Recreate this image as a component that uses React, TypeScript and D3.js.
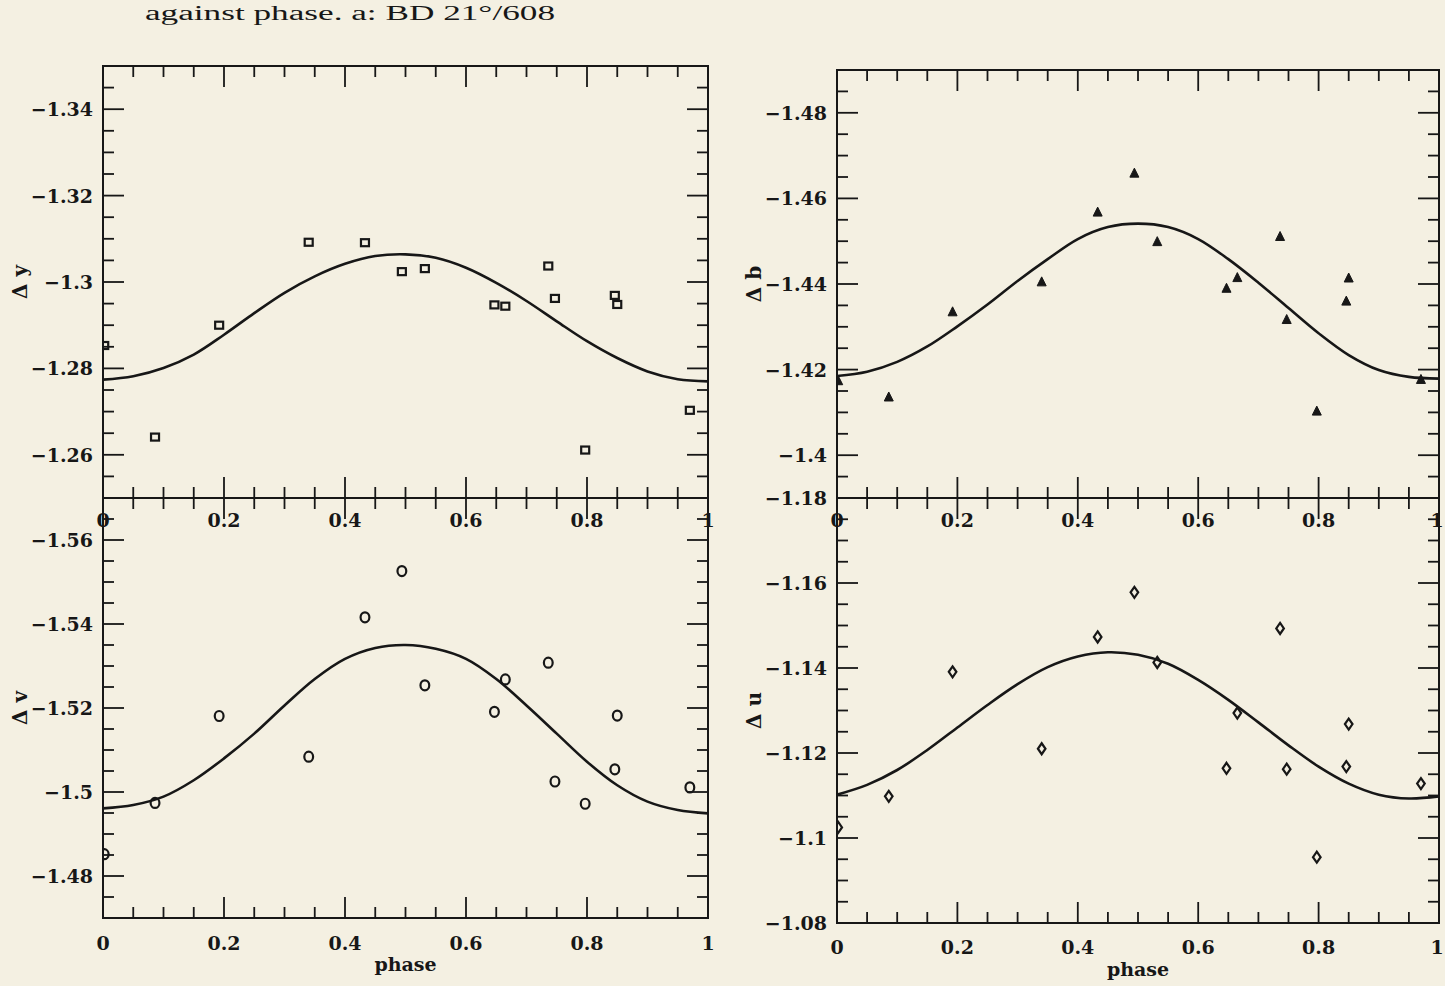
import React from "react";
import * as d3 from "d3";

// ---------- data ----------
const obsPhase = [0.002, 0.086, 0.192, 0.340, 0.433, 0.494, 0.532, 0.647, 0.665, 0.736, 0.747, 0.797, 0.846, 0.850, 0.970];
const dyObs = [-1.2853, -1.2641, -1.2900, -1.3092, -1.3091, -1.3024, -1.3031, -1.2947, -1.2944, -1.3037, -1.2962, -1.2611, -1.2969, -1.2948, -1.2703];
const dbObs = [-1.4174, -1.4136, -1.4335, -1.4405, -1.4568, -1.4659, -1.4499, -1.4390, -1.4415, -1.4511, -1.4317, -1.4103, -1.4360, -1.4414, -1.4177];
const dvObs = [-1.4852, -1.4974, -1.5181, -1.5084, -1.5416, -1.5526, -1.5254, -1.5191, -1.5268, -1.5308, -1.5025, -1.4972, -1.5054, -1.5182, -1.5011];
const duObs = [-1.1025, -1.1098, -1.1391, -1.1210, -1.1473, -1.1578, -1.1413, -1.1164, -1.1294, -1.1493, -1.1162, -1.0955, -1.1168, -1.1268, -1.1128];

const fitPhase = [0, 0.05, 0.1, 0.15, 0.2, 0.25, 0.3, 0.35, 0.4, 0.45, 0.5, 0.55, 0.6, 0.65, 0.7, 0.75, 0.8, 0.85, 0.9, 0.95, 1];
const dyFit = [-1.2774, -1.2782, -1.2801, -1.2832, -1.2878, -1.2928, -1.2975, -1.3013, -1.3042, -1.3060, -1.3064, -1.3056, -1.3033, -1.2998, -1.2956, -1.2909, -1.2863, -1.2824, -1.2793, -1.2775, -1.2770];
const dbFit = [-1.4185, -1.4195, -1.4218, -1.4254, -1.4301, -1.4352, -1.4407, -1.4458, -1.4505, -1.4533, -1.4541, -1.4533, -1.4505, -1.4458, -1.4403, -1.4344, -1.4285, -1.4234, -1.4199, -1.4183, -1.4179];
const dvFit = [-1.4961, -1.4969, -1.4989, -1.5028, -1.5080, -1.5139, -1.5206, -1.5269, -1.5317, -1.5343, -1.5350, -1.5341, -1.5317, -1.5269, -1.5206, -1.5139, -1.5072, -1.5016, -1.4977, -1.4957, -1.4949];
const duFit = [-1.1102, -1.1125, -1.1160, -1.1207, -1.1260, -1.1313, -1.1362, -1.1402, -1.1427, -1.1437, -1.1431, -1.1410, -1.1372, -1.1325, -1.1272, -1.1218, -1.1168, -1.1128, -1.1102, -1.1093, -1.1098];

const xTickLabels = [0, 0.2, 0.4, 0.6, 0.8, 1];
const dyTickLabels = [-1.34, -1.32, -1.30, -1.28, -1.26];
const dbTickLabels = [-1.48, -1.46, -1.44, -1.42, -1.40];
const dvTickLabels = [-1.56, -1.54, -1.52, -1.50, -1.48];
const duTickLabels = [-1.18, -1.16, -1.14, -1.12, -1.10, -1.08];

const dyDomain = [-1.35, -1.25];
const dbDomain = [-1.49, -1.39];
const dvDomain = [-1.57, -1.47];
const duDomain = [-1.18, -1.08];

// ---------- styling ----------
const INK = "#171717";
const PAPER = "#f4f0e2";
const FONT = "'DejaVu Serif', serif";

const fmt = (v: number) => {
  const s = String(Math.abs(+v.toFixed(3)));
  return (v < 0 ? "\u2212" : "") + s;
};

type Marker = "square" | "circle" | "triangle" | "diamond";

function MarkerShape({ kind, cx, cy }: { kind: Marker; cx: number; cy: number }) {
  if (kind === "square")
    return <rect x={cx - 4} y={cy - 3.5} width={8} height={7} fill="none" stroke={INK} strokeWidth={2.2} />;
  if (kind === "circle")
    return <ellipse cx={cx} cy={cy} rx={4.4} ry={5} fill="none" stroke={INK} strokeWidth={2.2} />;
  if (kind === "triangle")
    return <path d={`M${cx},${cy - 5}L${cx + 4.5},${cy + 4}L${cx - 4.5},${cy + 4}Z`} fill={INK} stroke={INK} strokeWidth={1} />;
  return <path d={`M${cx},${cy - 5.5}L${cx + 3.8},${cy}L${cx},${cy + 5.5}L${cx - 3.8},${cy}Z`} fill="none" stroke={INK} strokeWidth={2.2} />;
}

type PanelProps = {
  id: string;
  x0: number; x1: number; yTop: number; yBot: number;
  domain: number[];
  yLabels: number[];
  title: string;
  obs: number[];
  fit: number[];
  marker: Marker;
  xLabelBaseline: number;
  phaseBaseline?: number;
};

function Panel(p: PanelProps) {
  const x = d3.scaleLinear().domain([0, 1]).range([p.x0, p.x1]);
  const y = d3.scaleLinear().domain(p.domain).range([p.yTop, p.yBot]);
  const xTicks = d3.range(1, 20).map((i) => i / 20);
  const yTicks = d3.range(1, 20).map((i) => p.domain[0] + i * 0.005);
  const isMajorX = (v: number) => Math.abs(v * 5 - Math.round(v * 5)) < 1e-6;
  const isMajorY = (v: number) => Math.abs(v / 0.02 - Math.round(v / 0.02)) < 1e-6;
  const line = d3
    .line<number>()
    .x((_, i) => x(fitPhase[i]))
    .y((d) => y(d))
    .curve(d3.curveCatmullRom);
  const clipId = `clip-${p.id}`;
  const midY = (p.yTop + p.yBot) / 2;
  return (
    <g>
      <defs>
        <clipPath id={clipId}>
          <rect x={p.x0} y={p.yTop} width={p.x1 - p.x0} height={p.yBot - p.yTop} />
        </clipPath>
      </defs>
      {xTicks.map((v) => {
        const len = isMajorX(v) ? 21 : 11;
        return (
          <g key={`xt${v}`} stroke={INK} strokeWidth={1.8}>
            <line x1={x(v)} x2={x(v)} y1={p.yTop} y2={p.yTop + len} />
            <line x1={x(v)} x2={x(v)} y1={p.yBot} y2={p.yBot - len} />
          </g>
        );
      })}
      {yTicks.map((v) => {
        const len = isMajorY(v) ? 21 : 11;
        return (
          <g key={`yt${v}`} stroke={INK} strokeWidth={1.8}>
            <line x1={p.x0} x2={p.x0 + len} y1={y(v)} y2={y(v)} />
            <line x1={p.x1} x2={p.x1 - len} y1={y(v)} y2={y(v)} />
          </g>
        );
      })}
      <rect x={p.x0} y={p.yTop} width={p.x1 - p.x0} height={p.yBot - p.yTop} fill="none" stroke={INK} strokeWidth={2} />
      {p.yLabels.map((v) => (
        <text key={`yl${v}`} x={p.x0 - 10} y={y(v)} dy="0.37em" textAnchor="end" fontFamily={FONT} fontWeight="bold" fontSize={19} fill={INK}>
          {fmt(v)}
        </text>
      ))}
      {xTickLabels.map((v) => (
        <text key={`xl${v}`} x={Math.min(x(v), 1437)} y={p.xLabelBaseline} textAnchor="middle" fontFamily={FONT} fontWeight="bold" fontSize={19} fill={INK}>
          {String(v)}
        </text>
      ))}
      <text
        transform={`translate(${p.x0 - 76},${midY}) rotate(-90)`}
        textAnchor="middle"
        fontFamily={FONT}
        fontWeight="bold"
        fontSize={20}
        fill={INK}
      >
        {p.title}
      </text>
      {p.phaseBaseline !== undefined && (
        <text x={(p.x0 + p.x1) / 2} y={p.phaseBaseline} textAnchor="middle" fontFamily={FONT} fontWeight="bold" fontSize={19} fill={INK}>
          phase
        </text>
      )}
      <g clipPath={`url(#${clipId})`}>
        <path d={line(p.fit) || ""} fill="none" stroke={INK} strokeWidth={2.6} />
        {p.obs.map((v, i) => (
          <MarkerShape key={`m${i}`} kind={p.marker} cx={x(obsPhase[i])} cy={y(v)} />
        ))}
      </g>
    </g>
  );
}

export default function App() {
  return (
    <svg
      width={1445}
      height={986}
      style={{ position: "absolute", left: 0, top: 0, background: PAPER, display: "block" }}
    >
      <rect x={0} y={0} width={1445} height={986} fill={PAPER} />
      <text x={145} y={20} fontFamily="'Liberation Serif', serif" fontSize={20} fill={INK} textLength={410} lengthAdjust="spacingAndGlyphs">
        against phase. a: BD 21°/608
      </text>
      <Panel id="tl" x0={103} x1={708} yTop={66} yBot={498} domain={dyDomain} yLabels={dyTickLabels} title="Δ y" obs={dyObs} fit={dyFit} marker="square" xLabelBaseline={527} />
      <Panel id="bl" x0={103} x1={708} yTop={498} yBot={918} domain={dvDomain} yLabels={dvTickLabels} title="Δ v" obs={dvObs} fit={dvFit} marker="circle" xLabelBaseline={950} phaseBaseline={971} />
      <Panel id="tr" x0={837} x1={1439} yTop={70} yBot={498} domain={dbDomain} yLabels={dbTickLabels} title="Δ b" obs={dbObs} fit={dbFit} marker="triangle" xLabelBaseline={527} />
      <Panel id="br" x0={837} x1={1439} yTop={498} yBot={923} domain={duDomain} yLabels={duTickLabels} title="Δ u" obs={duObs} fit={duFit} marker="diamond" xLabelBaseline={954} phaseBaseline={976} />
    </svg>
  );
}
